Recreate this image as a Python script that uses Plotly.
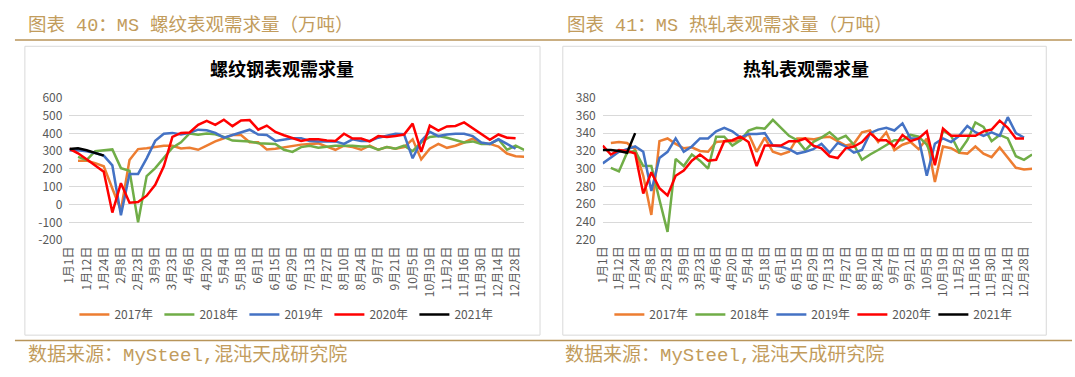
import plotly.graph_objects as go

# ---------------- data ----------------
tick_labels = ["1月1日", "1月12日", "1月24日", "2月8日", "2月23日", "3月9日", "3月23日",
               "4月6日", "4月20日", "5月4日", "5月18日", "6月1日", "6月15日", "6月29日",
               "7月13日", "7月27日", "8月10日", "8月24日", "9月7日", "9月21日", "10月5日",
               "10月19日", "11月2日", "11月16日", "11月30日", "12月14日", "12月28日"]
weeks = list(range(54))
years = ["2017年", "2018年", "2019年", "2020年", "2021年"]
rebar_yticks = [-200, -100, 0, 100, 200, 300, 400, 500, 600]
hrc_yticks = [220, 240, 260, 280, 300, 320, 340, 360, 380]

N = None
rebar_2017 = [N, 247, 247, 233, 215, 90, -32, 250, 312, 317, 323, 330, 331, 315, 319, 308, 331, 355, 373, 391,
              391, 350, 350, 310, 314, 323, 331, 337, 341, 344, 326, 308, 331, 323, 308, 331, 308, 323, 314, 323,
              367, 254, 314, 341, 319, 331, 349, 371, 344, 341, 326, 287, 272, 269]
rebar_2018 = [N, 268, 250, 300, 305, 310, 205, 190, -100, 160, 205, 260, 320, 350, 400, 392, 400, 395, 380, 360,
              358, 355, 345, 345, 341, 308, 296, 323, 331, 319, 326, 331, 331, 331, 326, 326, 308, 323, 314, 331,
              300, 350, 380, 385, 376, 362, 349, 355, 341, 341, 367, 308, 331, 308]
rebar_2019 = [305, 305, 300, 290, 275, 220, -60, 172, 172, 260, 358, 398, 403, 394, 403, 421, 418, 403, 376, 391,
              409, 421, 394, 391, 358, 367, 373, 373, 358, 355, 355, 355, 341, 367, 358, 358, 376, 385, 398, 395,
              260, 358, 409, 385, 394, 398, 398, 385, 349, 341, 367, 341, 314, N]
rebar_2020 = [314, 288, 255, 222, 185, -45, 120, 10, 14, 50, 111, 215, 380, 403, 405, 448, 471, 448, 477, 441,
              473, 475, 421, 444, 408, 390, 372, 358, 367, 367, 360, 358, 398, 371, 371, 355, 385, 380, 385, 394,
              455, 296, 444, 416, 439, 442, 462, 430, 398, 364, 394, 376, 373, N]
rebar_2021 = [312, 316, 305, 290, 275]

hrc_2017 = [N, 329, 330, 329, 322, 292, 248, 331, 334, 328, 323, 324, 320, 319, 330, 331, 331, 332, 339, 319,
            335, 319, 316, 319, 334, 334, 333, 335, 336, 331, 326, 328, 341, 343, 330, 341, 321, 327, 330, 322,
            334, 285, 325, 323, 318, 317, 325, 317, 313, 324, 312, 301, 299, 300]
hrc_2018 = [N, 301, 297, 318, 320, 303, 303, 265, 229, 311, 303, 316, 309, 300, 336, 336, 326, 332, 343, 346,
            345, 355, 346, 337, 332, 321, 330, 335, 341, 333, 337, 327, 310, 316, 321, 327, 332, 332, 338, 336,
            327, 307, 343, 337, 319, 332, 352, 347, 331, 338, 334, 314, 310, 316]
hrc_2019 = [306, 312, 319, 322, 325, 319, 275, 312, 319, 334, 319, 325, 334, 334, 342, 346, 342, 335, 339, 339,
            340, 326, 325, 322, 317, 319, 322, 328, 318, 329, 325, 318, 321, 340, 344, 346, 343, 351, 334, 334,
            292, 328, 334, 330, 337, 348, 341, 337, 341, 337, 358, 340, 335, N]
hrc_2020 = [326, 316, 321, 320, 317, 272, 296, 278, 270, 292, 298, 309, 316, 309, 310, 331, 332, 336, 330, 303,
            326, 326, 326, 331, 331, 334, 326, 323, 314, 312, 323, 325, 330, 340, 332, 332, 325, 338, 331, 334,
            342, 304, 345, 337, 337, 337, 337, 342, 344, 354, 346, 334, 334, N]
hrc_2021 = [321, 321, 320, 318, 340]

colors = ["#ED7D31", "#70AD47", "#4472C4", "#FF0000", "#000000"]

# ---------------- figure ----------------
W, H = 1075, 377
def px(x):
    return x / W
def py(y):
    return 1 - y / H

fig = go.Figure()
FONT = "Noto Sans CJK SC"
MIXFONT = "Liberation Mono, Noto Sans CJK SC"
GOLD = "#C29C5C"
LINEGOLD = "#B8955A"

left = [rebar_2017, rebar_2018, rebar_2019, rebar_2020, rebar_2021]
right = [hrc_2017, hrc_2018, hrc_2019, hrc_2020, hrc_2021]
for name, ser, c in zip(years, left, colors):
    fig.add_trace(go.Scatter(x=weeks[:len(ser)], y=ser, name=name, mode="lines",
                             line=dict(color=c, width=2.5), xaxis="x", yaxis="y",
                             legend="legend", connectgaps=False))
for name, ser, c in zip(years, right, colors):
    fig.add_trace(go.Scatter(x=weeks[:len(ser)], y=ser, name=name, mode="lines",
                             line=dict(color=c, width=2.5), xaxis="x2", yaxis="y2",
                             legend="legend2", connectgaps=False))

tickvals = weeks[::2]
axis_font = dict(family=FONT, size=12, color="#595959")
xcommon = dict(range=[0, 53], tickvals=tickvals, ticktext=tick_labels, tickangle=-90,
               showgrid=False, zeroline=False, showline=False, tickfont=axis_font,
               ticks="", ticklabelstandoff=3, fixedrange=True)
ycommon = dict(showgrid=True, gridcolor="#D9D9D9", gridwidth=1, zeroline=False, showline=False,
               tickfont=axis_font, ticks="", ticklabelstandoff=6, fixedrange=True)

fig.update_layout(
    width=W, height=H, margin=dict(l=0, r=0, t=0, b=0),
    paper_bgcolor="white", plot_bgcolor="white",
    font=dict(family=FONT),
    xaxis=dict(domain=[px(60), px(519)], anchor="y", **xcommon),
    yaxis=dict(domain=[py(241), py(92)], anchor="x", range=[-200, 600],
               tickvals=rebar_yticks, ticktext=[str(v) for v in rebar_yticks], **ycommon),
    xaxis2=dict(domain=[px(598.3), px(1031.7)], anchor="y2", **xcommon),
    yaxis2=dict(domain=[py(240.7), py(91.7)], anchor="x2", range=[220, 380],
                tickvals=hrc_yticks, ticktext=[str(v) for v in hrc_yticks], **ycommon),
    legend=dict(orientation="h", x=px(65), xanchor="left", y=py(319), yanchor="middle",
                entrywidth=40, entrywidthmode="pixels", font=dict(family=FONT, size=12, color="#595959"),
                bgcolor="rgba(0,0,0,0)", borderwidth=0),
    legend2=dict(orientation="h", x=px(605), xanchor="left", y=py(319), yanchor="middle",
                 entrywidth=36, entrywidthmode="pixels", font=dict(family=FONT, size=12, color="#595959"),
                 bgcolor="rgba(0,0,0,0)", borderwidth=0),
    showlegend=True,
)

shapes = [
    dict(type="line", xref="paper", yref="paper", x0=px(5), x1=px(1072), y0=py(31.5), y1=py(31.5),
         line=dict(color=LINEGOLD, width=1.5)),
    dict(type="line", xref="paper", yref="paper", x0=px(5), x1=px(1072), y0=py(346), y1=py(346),
         line=dict(color=LINEGOLD, width=1.5)),
    dict(type="rect", xref="paper", yref="paper", x0=px(15), x1=px(535), y0=py(340.5), y1=py(38),
         line=dict(color="#D9D9D9", width=1), layer="below"),
    dict(type="rect", xref="paper", yref="paper", x0=px(558), x1=px(1046), y0=py(340.5), y1=py(38),
         line=dict(color="#D9D9D9", width=1), layer="below"),
]
fig.update_layout(shapes=shapes)

ann = []
def text(x, y, s, size, color, family, anchor="left", bold=False):
    ann.append(dict(xref="paper", yref="paper", x=px(x), y=py(y), text=f"<b>{s}</b>" if bold else s,
                    showarrow=False, xanchor=anchor, yanchor="middle",
                    font=dict(family=family, size=size, color=color)))

text(16, 17, "图表 40：MS 螺纹表观需求量（万吨）", 18.5, GOLD, MIXFONT)
text(560, 17, "图表 41：MS 热轧表观需求量（万吨）", 18.5, GOLD, MIXFONT)
text(16, 362, "数据来源：MySteel,混沌天成研究院", 19, GOLD, MIXFONT)
text(558, 362, "数据来源：MySteel,混沌天成研究院", 19, GOLD, MIXFONT)
text(275, 61, "螺纹钢表观需求量", 18, "#000000", FONT, anchor="center", bold=True)
text(803, 61, "热轧表观需求量", 18, "#000000", FONT, anchor="center", bold=True)
fig.update_layout(annotations=ann)

fig.write_html("out.html", config={"displayModeBar": False, "staticPlot": True},
               post_script="document.body.style.margin='0px';")
